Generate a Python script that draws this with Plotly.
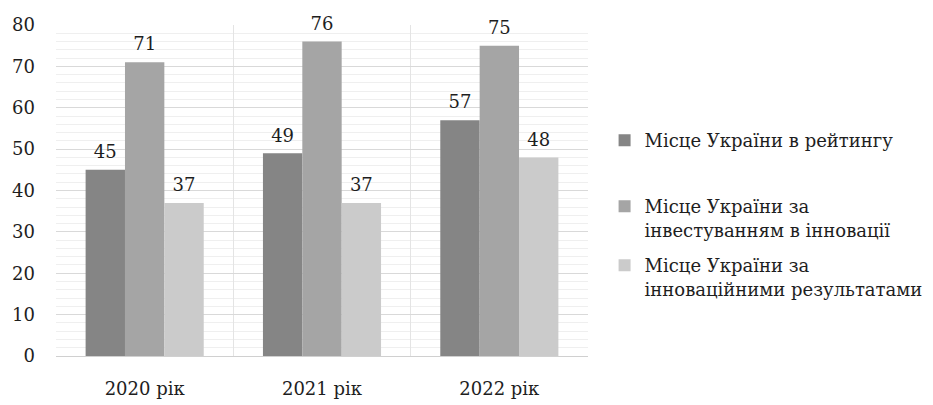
import plotly.graph_objects as go

categories = ["2020 рік", "2021 рік", "2022 рік"]
series_names = [
    "Місце України в рейтингу",
    "Місце України за<br>інвестуванням в інновації",
    "Місце України за<br>інноваційними результатами",
]
rank_overall = [45, 49, 57]
rank_investment = [71, 76, 75]
rank_results = [37, 37, 48]
y_ticks = [0, 10, 20, 30, 40, 50, 60, 70, 80]

series_values = [rank_overall, rank_investment, rank_results]
colors = ["#858585", "#a5a5a5", "#cbcbcb"]
legends = ["legend", "legend2", "legend3"]
legend_tops = [122, 188, 247]
FONT = "DejaVu Serif"
TXT = "#1e1e1e"

fig = go.Figure()
for i, (name, vals, col) in enumerate(zip(series_names, series_values, colors)):
    fig.add_trace(go.Bar(
        x=categories, y=vals, name=name, marker_color=col,
        marker_line_width=0, offsetgroup=str(i), legend=legends[i],
    ))
for i, vals in enumerate(series_values):
    fig.add_trace(go.Scatter(
        x=categories, y=vals, mode="markers+text", text=[str(v) for v in vals],
        textposition="top center", offsetgroup=str(i), showlegend=False,
        marker=dict(size=10, color="rgba(0,0,0,0)"), cliponaxis=False,
        textfont=dict(family=FONT, size=18, color=TXT), hoverinfo="skip",
    ))

legend_cfg = {}
for key, top in zip(legends, legend_tops):
    legend_cfg[key] = dict(
        xref="container", yref="container", x=0.648, y=1 - top / 405,
        xanchor="left", yanchor="top", font=dict(family=FONT, size=18, color=TXT),
        valign="top", bgcolor="rgba(0,0,0,0)",
    )

fig.update_layout(
    width=933, height=405,
    margin=dict(l=56, r=345, t=25, b=49, autoexpand=False),
    paper_bgcolor="white", plot_bgcolor="white",
    barmode="group", bargap=0.334, bargroupgap=0,
    scattermode="group", scattergap=0.334,
    font=dict(family=FONT, size=18, color=TXT),
    **legend_cfg,
)
fig.update_xaxes(
    type="category", tickson="boundaries", showgrid=True, gridcolor="#e4e4e4",
    gridwidth=1, ticks="", showline=False, zeroline=False, automargin=False,
    tickfont=dict(family=FONT, size=18, color=TXT), ticklabelstandoff=20,
)
fig.update_yaxes(
    range=[0, 80], tickvals=y_ticks, showgrid=True, gridcolor="#d9d9d9",
    zeroline=True, zerolinecolor="#d0d0d0", zerolinewidth=1, automargin=False,
    minor=dict(dtick=2, showgrid=True, gridcolor="#efefef", ticks=""),
    ticks="", showline=False, tickfont=dict(family=FONT, size=18, color=TXT),
    ticklabelstandoff=20,
)

fig.write_html("out.html", post_script="document.body.style.margin='0';",
               config={"displayModeBar": False})
